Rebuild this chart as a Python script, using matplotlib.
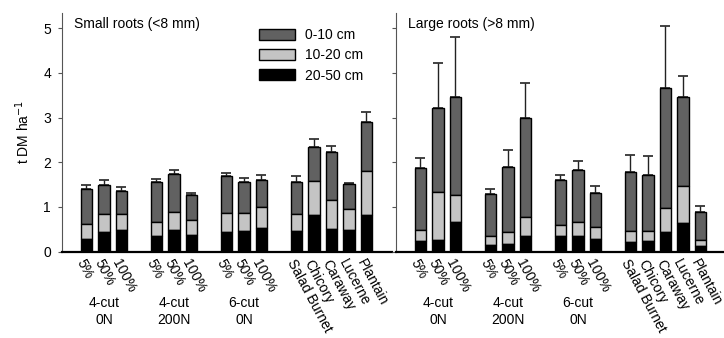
import matplotlib
matplotlib.use("Agg")
import matplotlib.pyplot as plt
from matplotlib.patches import Patch

plt.rcParams['font.family'] = ['Liberation Sans', 'DejaVu Sans']

# ---- data ----
tick_labels = ["5%", "50%", "100%", "5%", "50%", "100%", "5%", "50%", "100%",
               "Salad Burnet", "Chicory", "Caraway", "Lucerne", "Plantain"]
group_sizes = [3, 3, 3, 5]
group_labels = ["4-cut\n0N", "4-cut\n200N", "6-cut\n0N"]
depth_labels = ["0-10 cm", "10-20 cm", "20-50 cm"]

# cumulative tops (total, top of 10-20, top of 20-50) and error-bar tips
small_total = [1.41, 1.49, 1.35, 1.55, 1.74, 1.26, 1.68, 1.56, 1.59, 1.55, 2.35, 2.23, 1.51, 2.89]
small_mid   = [0.62, 0.83, 0.85, 0.65, 0.89, 0.71, 0.87, 0.87, 1.00, 0.85, 1.57, 1.16, 0.95, 1.81]
small_low   = [0.29, 0.44, 0.48, 0.35, 0.48, 0.38, 0.43, 0.45, 0.53, 0.45, 0.81, 0.50, 0.49, 0.81]
small_err   = [1.50, 1.59, 1.44, 1.62, 1.82, 1.32, 1.75, 1.65, 1.71, 1.68, 2.53, 2.36, 1.53, 3.12]

large_total = [1.88, 3.22, 3.46, 1.28, 1.90, 2.99, 1.60, 1.82, 1.31, 1.78, 1.72, 3.67, 3.45, 0.88]
large_mid   = [0.48, 1.34, 1.27, 0.34, 0.43, 0.77, 0.60, 0.66, 0.54, 0.45, 0.47, 0.97, 1.47, 0.25]
large_low   = [0.24, 0.25, 0.66, 0.15, 0.16, 0.35, 0.34, 0.35, 0.28, 0.22, 0.23, 0.43, 0.63, 0.13]
large_err   = [2.10, 4.23, 4.81, 1.40, 2.27, 3.78, 1.72, 2.03, 1.46, 2.16, 2.13, 5.06, 3.93, 1.01]

panel_titles = ["Small roots (<8 mm)", "Large roots (>8 mm)"]
yticks = [0, 1, 2, 3, 4, 5]

colors = ["#616161", "#c4c4c4", "#000000"]

# ---- positions from group structure ----
xpos = []
p = 0
for gs in group_sizes:
    for k in range(gs):
        xpos.append(p)
        p += 1
    p += 1
group_centers = []
i = 0
for gs in group_sizes[:3]:
    group_centers.append(xpos[i + gs // 2])
    i += gs

W, H = 724, 338
fig = plt.figure(figsize=(W / 100, H / 100), dpi=100)
ax_l = fig.add_axes([62 / W, (338 - 251.5) / H, 330 / W, (251.5 - 13) / H])
ax_r = fig.add_axes([396 / W, (338 - 251.5) / H, 330 / W, (251.5 - 13) / H])

bw = 0.65
for ax, tot, mid, low, err, title in [
        (ax_l, small_total, small_mid, small_low, small_err, panel_titles[0]),
        (ax_r, large_total, large_mid, large_low, large_err, panel_titles[1])]:
    up = [e - t for e, t in zip(err, tot)]
    ax.errorbar(xpos, tot, yerr=[[0] * len(tot), up], fmt='none', ecolor='#222222',
                elinewidth=1.0, capsize=3.5, capthick=1.2, zorder=1)
    ax.bar(xpos, [t - m for t, m in zip(tot, mid)], bw, bottom=mid, color=colors[0],
           edgecolor='black', linewidth=1.0, zorder=2)
    ax.bar(xpos, [m - l for m, l in zip(mid, low)], bw, bottom=low, color=colors[1],
           edgecolor='black', linewidth=1.0, zorder=2)
    ax.bar(xpos, low, bw, color=colors[2], edgecolor='black', linewidth=1.0, zorder=2)
    ax.set_xlim(-1.4, 17.46)
    ax.set_ylim(0, 5.34)
    ax.set_yticks(yticks)
    for s in ['top', 'right']:
        ax.spines[s].set_visible(False)
    ax.spines['left'].set_color('#555555')
    ax.spines['left'].set_linewidth(0.8)
    ax.spines['bottom'].set_linewidth(1.6)
    ax.tick_params(axis='y', direction='out', length=3, width=0.8, color='#555555',
                   labelsize=10, pad=5)
    ax.set_xticks(xpos)
    ax.set_xticklabels(tick_labels, rotation=-62, ha='left', va='top',
                       rotation_mode='anchor', fontsize=10)
    ax.tick_params(axis='x', length=0, pad=4)
    ax.text(0.035, 0.985, title, transform=ax.transAxes, fontsize=10, va='top', ha='left')
    for gc, gl in zip(group_centers, group_labels):
        ax.text(gc, -0.185, gl, transform=ax.get_xaxis_transform(), ha='center',
                va='top', fontsize=10, linespacing=1.35)

ax_r.set_yticklabels([])
ax_l.set_ylabel("t DM ha$^{-1}$", fontsize=10, labelpad=8)

handles = [Patch(facecolor=c, edgecolor='black', linewidth=1.0) for c in colors]
ax_l.legend(handles, depth_labels, loc='upper left', bbox_to_anchor=(0.58, 0.96),
            frameon=False, fontsize=10, handlelength=2.6, handleheight=0.8,
            labelspacing=0.45, handletextpad=0.7, borderaxespad=0)

fig.savefig("out.png", dpi=100)
